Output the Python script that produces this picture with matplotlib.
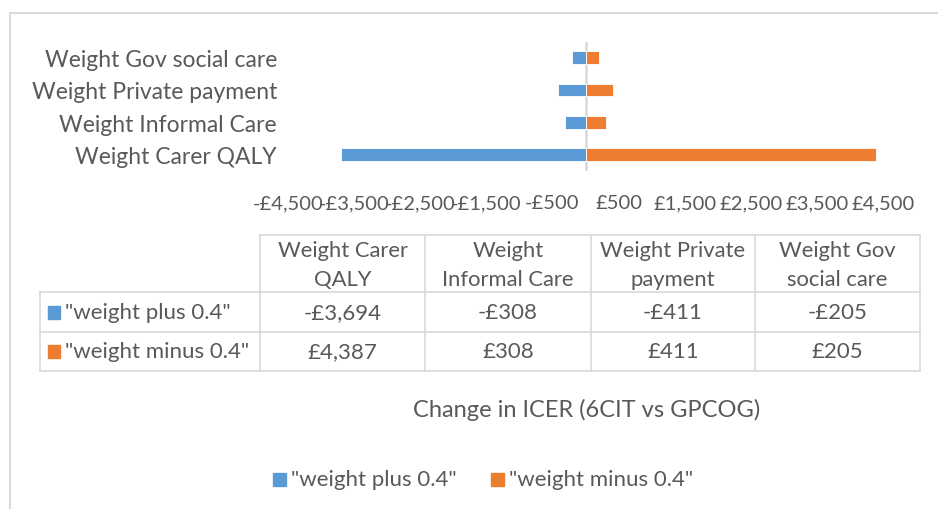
import matplotlib
matplotlib.use('Agg')
import matplotlib.pyplot as plt

# data
categories = ['Weight Carer QALY', 'Weight Informal Care',
              'Weight Private payment', 'Weight Gov social care']
table_headers = ['Weight Carer\nQALY', 'Weight\nInformal Care',
                 'Weight Private\npayment', 'Weight Gov\nsocial care']
series_names = ['"weight plus 0.4"', '"weight minus 0.4"']
weight_plus = [-3694, -308, -411, -205]
weight_minus = [4387, 308, 411, 205]
x_ticks = [-4500, -3500, -2500, -1500, -500, 500, 1500, 2500, 3500, 4500]

blue = '#5B9BD5'
orange = '#ED7D31'
txt = '#595959'
grid = '#D9D9D9'

plt.rcParams['font.family'] = ['Lato', 'DejaVu Sans']


def money(v):
    return f'-£{abs(v):,}' if v < 0 else f'£{v:,}'


W, H = 938, 510
fig = plt.figure(figsize=(W / 100, H / 100), dpi=100)

# main bar chart, placed in pixel units
left, right, top, bottom = 288, 883, 42.7, 171.5
ax = fig.add_axes([left / W, 1 - bottom / H, (right - left) / W, (bottom - top) / H])
ypos = range(len(categories))
ax.barh(ypos, weight_plus, height=0.4, color=blue, edgecolor='white', linewidth=0.6, zorder=2)
ax.barh(ypos, weight_minus, height=0.4, color=orange, edgecolor='white', linewidth=0.6, zorder=2)
ax.axvline(0, color=grid, lw=1.8, zorder=1)
ax.set_xlim(-4500, 4500)
ax.set_ylim(-0.5, len(categories) - 0.5)
ax.set_yticks(list(ypos))
ax.set_yticklabels(categories, fontsize=16.5, color=txt)
ax.set_xticks(x_ticks)
ax.set_xticklabels([money(v) for v in x_ticks], fontsize=14.5, color=txt)
ax.tick_params(axis='both', length=0)
ax.tick_params(axis='y', pad=8)
ax.tick_params(axis='x', pad=17)
for s in ax.spines.values():
    s.set_visible(False)

# overlay in pixel coordinates for frame, data table, title, legend
ov = fig.add_axes([0, 0, 1, 1], zorder=-1)
ov.set_xlim(0, W)
ov.set_ylim(H, 0)
ov.axis('off')

# chart border (cropped)
ov.plot([9.5, 9.5, W + 5], [H + 5, 14, 14], color=grid, lw=1.5)

# data table
col_x = [40, 260, 425, 591, 755, 920]
row_y = [236, 293, 333, 372]
ov.plot([col_x[1], col_x[-1]], [row_y[0], row_y[0]], color=grid, lw=1.2)
for yy in row_y[1:]:
    ov.plot([col_x[0], col_x[-1]], [yy, yy], color=grid, lw=1.2)
ov.plot([col_x[0], col_x[0]], [row_y[1], row_y[-1]], color=grid, lw=1.2)
for xx in col_x[1:]:
    ov.plot([xx, xx], [row_y[0], row_y[-1]], color=grid, lw=1.2)

for i, h in enumerate(table_headers):
    cx = (col_x[i + 1] + col_x[i + 2]) / 2
    ov.text(cx, (row_y[0] + row_y[1]) / 2 + 1, h, ha='center', va='center',
            fontsize=15.8, color=txt, linespacing=1.55)

for r, (name, vals, col) in enumerate(zip(series_names, [weight_plus, weight_minus], [blue, orange])):
    cy = (row_y[r + 1] + row_y[r + 2]) / 2
    ov.add_patch(plt.Rectangle((48, cy - 6.5), 12, 13, color=col))
    ov.text(65, cy, name, ha='left', va='center', fontsize=16, color=txt)
    for i, v in enumerate(vals):
        cx = (col_x[i + 1] + col_x[i + 2]) / 2
        ov.text(cx, cy, money(v), ha='center', va='center', fontsize=16, color=txt)

# axis title
ov.text(587, 410, 'Change in ICER (6CIT vs GPCOG)', ha='center', va='center',
        fontsize=17, color=txt)

# legend
for name, col, lx in zip(series_names, [blue, orange], [273, 491]):
    ov.add_patch(plt.Rectangle((lx, 474), 13, 13, color=col))
    ov.text(lx + 18, 480.5, name, ha='left', va='center', fontsize=16, color=txt)

fig.savefig('out.png', dpi=100)
